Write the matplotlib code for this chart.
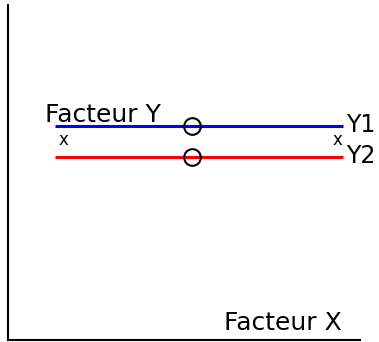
import matplotlib.pyplot as plt

# two levels of factor X, two series of factor Y (parallel lines = no interaction)
x_levels = [1, 2]
y1 = [6, 6]
y2 = [5, 5]
series_labels = ["Y1", "Y2"]
series_colors = ["blue", "red"]
circle_x = 1.475
tick_marks_x = [1.031, 1.979]
tick_marks_y = 5.55

fig = plt.figure(figsize=(3.79, 3.42), dpi=100)
ax = fig.add_axes([8 / 379, 2 / 342, 352 / 379, 335 / 342])

for ys, lab, col in zip([y1, y2], series_labels, series_colors):
    ax.plot(x_levels, ys, color=col, linewidth=2.2, solid_capstyle="butt")
    ax.plot([circle_x], [ys[0]], marker="o", markersize=12, markerfacecolor="none",
            markeredgecolor="black", markeredgewidth=1.5)
    ax.annotate(lab, xy=(x_levels[-1], ys[-1]), xytext=(2.5, 0.5), textcoords="offset points",
                ha="left", va="center", fontsize=17)

for tx in tick_marks_x:
    ax.text(tx, tick_marks_y, "x", ha="center", va="center", fontsize=12)

ax.annotate("Facteur Y", xy=(x_levels[0], y1[0]), xytext=(-7.5, 3), textcoords="offset points",
            ha="left", va="baseline", fontsize=18)
ax.text(0.949, 0.03, "Facteur X", transform=ax.transAxes, ha="right", va="baseline", fontsize=18)

ax.set_xlim(0.837, 2.059)
ax.set_ylim(-0.9, 9.9)
ax.spines["top"].set_visible(False)
ax.spines["right"].set_visible(False)
ax.spines["left"].set_linewidth(1.5)
ax.spines["bottom"].set_linewidth(1.5)
ax.set_xticks([])
ax.set_yticks([])

plt.savefig("out.png", dpi=100)
